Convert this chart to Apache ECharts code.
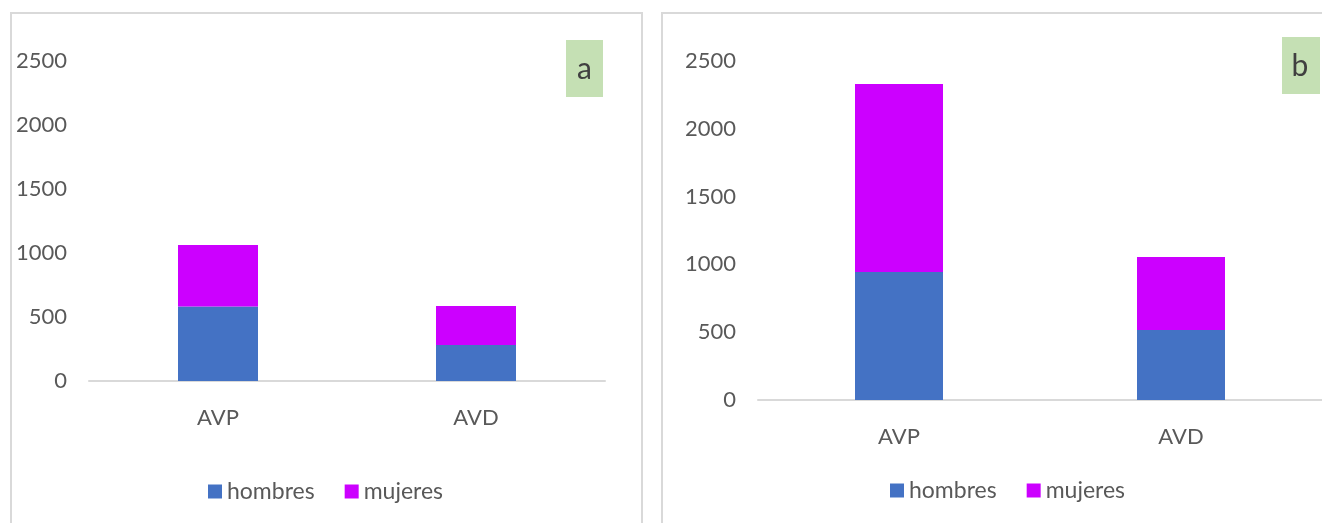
<!DOCTYPE html>
<html>
<head>
<meta charset="utf-8">
<script src="https://cdn.jsdelivr.net/npm/echarts@6/dist/echarts.min.js"></script>
<style>
  html, body { margin: 0; padding: 0; background: #fff; }
  #chart { width: 1322px; height: 523px; }
</style>
</head>
<body>
<div id="chart"></div>
<script>
// datos
const categories = ['AVP', 'AVD']
const hombresA = [582, 282]
const mujeresA = [480, 304]
const hombresB = [944, 516]
const mujeresB = [1386, 539]
const yTicks = [0, 500, 1000, 1500, 2000, 2500]

const FONT = 'Lato'
const GREY = '#595959'
const BLUE = '#4472c4'
const MAGENTA = '#cc00ff'

const chartInstance = echarts.init(document.getElementById('chart'))

const makeX = (i) => ({
  type: 'category',
  gridIndex: i,
  data: categories,
  axisTick: { show: false },
  axisLine: { lineStyle: { color: '#d9d9d9', width: 2 } },
  axisLabel: { color: GREY, fontFamily: FONT, fontSize: 22, margin: 26 },
})
const makeY = (i) => ({
  type: 'value',
  gridIndex: i,
  min: yTicks[0],
  max: yTicks[yTicks.length - 1],
  interval: 500,
  splitLine: { show: false },
  axisLine: { show: false },
  axisTick: { show: false },
  axisLabel: {
    color: GREY,
    fontFamily: FONT,
    fontSize: 22,
    margin: 22,
    formatter: (v) => String(v),
  },
})
const makeBar = (name, data, i, color, width) => ({
  name: name,
  type: 'bar',
  stack: 's' + i,
  xAxisIndex: i,
  yAxisIndex: i,
  data: data,
  barWidth: width,
  itemStyle: { color: color },
})
const makeLegend = (left, top) => ({
  left: left,
  top: top,
  itemWidth: 14,
  itemHeight: 14,
  itemGap: 30,
  icon: 'rect',
  data: ['hombres', 'mujeres'],
  textStyle: { color: GREY, fontFamily: FONT, fontSize: 23 },
})

const option = {
  animation: false,
  grid: [
    { left: 89, top: 61, width: 516, height: 320 },
    { left: 758, top: 61, width: 568, height: 339 },
  ],
  xAxis: [makeX(0), makeX(1)],
  yAxis: [makeY(0), makeY(1)],
  legend: [makeLegend(203, 475), makeLegend(885, 474)],
  series: [
    makeBar('hombres', hombresA, 0, BLUE, 80),
    makeBar('mujeres', mujeresA, 0, MAGENTA, 80),
    makeBar('hombres', hombresB, 1, BLUE, 88),
    makeBar('mujeres', mujeresB, 1, MAGENTA, 88),
  ],
  graphic: [
    // marcos
    { type: 'rect', shape: { x: 11, y: 13, width: 631, height: 530 }, style: { fill: 'none', stroke: '#d9d9d9', lineWidth: 2 }, z: -1 },
    { type: 'rect', shape: { x: 662, y: 13, width: 700, height: 530 }, style: { fill: 'none', stroke: '#d9d9d9', lineWidth: 2 }, z: -1 },
    // etiquetas de panel
    { type: 'rect', shape: { x: 566, y: 40, width: 37, height: 57 }, style: { fill: '#c5e0b4' } },
    { type: 'text', x: 584.5, y: 69, style: { text: 'a', fill: '#404040', font: '30px Lato', align: 'center', verticalAlign: 'middle' } },
    { type: 'rect', shape: { x: 1282, y: 37, width: 38, height: 57 }, style: { fill: '#c5e0b4' } },
    { type: 'text', x: 1300, y: 66, style: { text: 'b', fill: '#404040', font: '30px Lato', align: 'center', verticalAlign: 'middle' } },
  ],
}

chartInstance.setOption(option)
</script>
</body>
</html>
